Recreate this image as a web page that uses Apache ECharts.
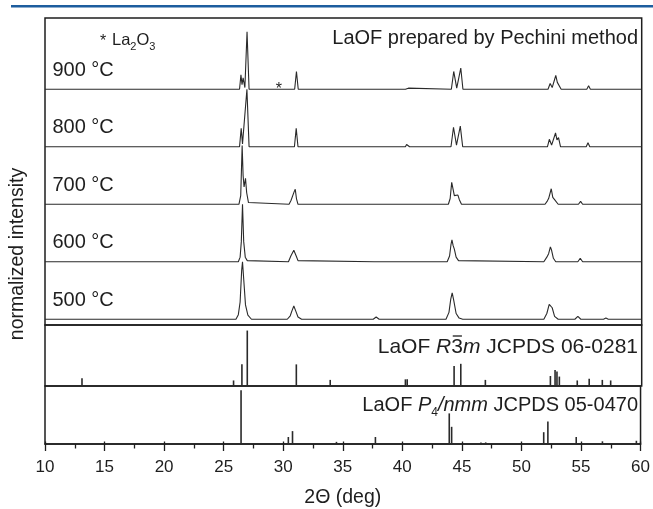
<!DOCTYPE html>
<html>
<head>
<meta charset="utf-8">
<script src="https://cdn.jsdelivr.net/npm/echarts@6/dist/echarts.min.js"></script>
<style>
  html, body { margin: 0; padding: 0; background: #fff; }
  #chart { width: 653px; height: 509px; }
</style>
</head>
<body>
<div id="chart"></div>
<script>
// XRD patterns of LaOF calcined at different temperatures, [2θ (deg), normalized intensity]
const temps = ['900 °C', '800 °C', '700 °C', '600 °C', '500 °C'];
const traceOffsets = [4, 3, 2, 1, 0];

const t900 = [
  [10, 0], [26.3, 0], [26.42, 0.25], [26.51, 0.08], [26.6, 0.2], [26.75, 0.03], [26.93, 1.0], [27.1, 0],
  [29.8, 0], [29.9, 0.02], [30.0, 0],
  [30.92, 0], [31.07, 0.31], [31.22, 0],
  [33.7, 0], [33.82, 0.03], [33.95, 0],
  [40.2, 0], [40.3, 0.03], [40.45, 0.02], [40.55, 0],
  [44.05, 0], [44.25, 0.31], [44.5, 0.02], [44.84, 0.37], [45.02, 0],
  [46.8, 0], [46.9, 0.02], [47.0, 0],
  [52.15, 0], [52.33, 0.1], [52.5, 0.03], [52.8, 0.24], [52.93, 0.12], [53.06, 0.14], [53.25, 0],
  [54.5, 0], [54.6, 0.02], [54.7, 0],
  [55.4, 0], [55.55, 0.06], [55.7, 0],
  [56.6, 0], [56.7, 0.02], [56.8, 0], [57.3, 0], [57.4, 0.02], [57.5, 0],
  [60, 0]
];
const t800 = [
  [10, 0], [26.3, 0], [26.44, 0.32], [26.55, 0.05], [26.7, 0.03], [26.92, 1.0], [27.1, 0],
  [30.9, 0], [31.05, 0.32], [31.2, 0],
  [33.7, 0], [33.8, 0.03], [33.9, 0],
  [40.2, 0], [40.3, 0.04], [40.45, 0.03], [40.55, 0],
  [44.02, 0], [44.23, 0.34], [44.48, 0.03], [44.8, 0.36], [45.0, 0],
  [46.8, 0], [46.9, 0.02], [47.0, 0],
  [52.1, 0], [52.26, 0.13], [52.45, 0.03], [52.78, 0.24], [52.9, 0.12], [53.03, 0.16], [53.2, 0],
  [54.45, 0], [54.55, 0.03], [54.65, 0],
  [55.35, 0], [55.5, 0.07], [55.65, 0],
  [56.6, 0], [56.7, 0.02], [56.8, 0],
  [60, 0]
];
const t700 = [
  [10, 0], [26.25, 0], [26.4, 0.15], [26.52, 1.02], [26.6, 0.5], [26.68, 0.3], [26.8, 0.45], [26.9, 0.2], [27.05, 0.03], [27.2, 0],
  [30.45, 0], [30.62, 0.07], [30.72, 0.05], [30.88, 0.22], [30.97, 0.26], [31.07, 0.1], [31.2, 0],
  [33.7, 0], [33.8, 0.02], [33.9, 0],
  [37.7, 0], [37.8, 0.02], [37.9, 0],
  [43.8, 0], [43.95, 0.1], [44.08, 0.38], [44.15, 0.4], [44.3, 0.15], [44.45, 0.12], [44.6, 0.16], [44.72, 0.08], [44.9, 0],
  [46.8, 0], [46.9, 0.03], [47.0, 0],
  [51.9, 0], [52.1, 0.06], [52.2, 0.1], [52.3, 0.12], [52.42, 0.27], [52.55, 0.12], [52.7, 0.08], [52.85, 0.06], [53.0, 0],
  [54.7, 0], [54.88, 0.05], [55.05, 0],
  [55.5, 0], [55.6, 0.03], [55.7, 0],
  [60, 0]
];
const t600 = [
  [10, 0], [26.2, 0], [26.35, 0.08], [26.45, 0.35], [26.55, 1.0], [26.65, 0.35], [26.78, 0.08], [26.95, 0.02], [27.1, 0],
  [30.4, 0], [30.6, 0.1], [30.7, 0.1], [30.85, 0.2], [30.93, 0.23], [31.05, 0.1], [31.2, 0.02], [31.35, 0],
  [37.6, 0], [37.75, 0.03], [37.9, 0],
  [43.7, 0], [43.9, 0.1], [44.02, 0.3], [44.1, 0.38], [44.2, 0.28], [44.3, 0.22], [44.45, 0.08], [44.65, 0.02], [44.8, 0],
  [51.8, 0], [52.05, 0.08], [52.2, 0.14], [52.35, 0.26], [52.45, 0.2], [52.6, 0.06], [52.8, 0],
  [54.65, 0], [54.85, 0.06], [55.05, 0],
  [56.9, 0], [57.0, 0.02], [57.1, 0],
  [60, 0]
];
const t500 = [
  [10, 0], [26.0, 0], [26.2, 0.08], [26.35, 0.3], [26.48, 0.85], [26.55, 1.0], [26.65, 0.7], [26.8, 0.25], [27.0, 0.07], [27.3, 0],
  [30.3, 0], [30.55, 0.06], [30.7, 0.15], [30.85, 0.23], [31.0, 0.15], [31.2, 0.04], [31.5, 0],
  [37.5, 0], [37.75, 0.04], [38.0, 0],
  [43.6, 0], [43.85, 0.12], [44.0, 0.35], [44.12, 0.46], [44.25, 0.33], [44.45, 0.1], [44.7, 0.02], [45.0, 0],
  [51.8, 0], [52.05, 0.1], [52.25, 0.26], [52.35, 0.28], [52.5, 0.2], [52.7, 0.05], [53.0, 0],
  [54.4, 0], [54.65, 0.05], [54.9, 0],
  [56.8, 0], [57.0, 0.02], [57.2, 0],
  [60, 0]
];
const traces = [t900, t800, t700, t600, t500];

// Reference patterns: peak positions (2θ) and relative intensities
const r3mPos = [13.1, 25.8, 26.5, 26.95, 31.06, 33.9, 40.2, 40.35, 44.28, 44.84, 46.9, 52.35, 52.74, 52.9, 53.1, 54.6, 55.6, 56.7, 57.4];
const r3mInt = [14, 10, 39, 100, 39, 11, 12, 12, 36, 40, 11, 18, 29, 26, 17, 10, 13, 11, 10];
const p4Pos = [26.46, 30.43, 30.78, 34.47, 37.74, 43.94, 44.14, 46.6, 47.0, 51.87, 52.22, 54.6, 56.8, 59.65];
const p4Int = [100, 13, 24, 4, 13, 57, 32, 3, 3, 22, 42, 13, 5, 6];

// La2O3 impurity reflection in the 900 °C pattern
const la2o3Mark = [29.6, 0.0];

const xTicks = { min: 10, max: 60, interval: 5 };

const FONT = '"Liberation Sans", Arial, sans-serif';
const INK = '#1e1e1e';
const LINE = '#2a2a2a';
const FS = 20;
const FS_R3M = 21;

// width of a text run, used to place the overbar of the space-group symbol
const measure = (() => {
  const ctx = document.createElement('canvas').getContext('2d');
  return (text, style, size) => { ctx.font = (style || '') + ' ' + size + 'px ' + FONT; return ctx.measureText(text).width; };
})();

const chart = echarts.init(document.getElementById('chart'), null, { renderer: 'canvas' });

const gridBase = { left: 45, right: 11.3, show: true, borderColor: INK, borderWidth: 1.5, backgroundColor: 'transparent' };
const hiddenX = (gi) => ({
  type: 'value', gridIndex: gi, min: xTicks.min, max: xTicks.max, interval: xTicks.interval,
  axisLine: { show: false }, axisTick: { show: false }, axisLabel: { show: false }, splitLine: { show: false }
});
const hiddenY = (gi, min, max) => ({
  type: 'value', gridIndex: gi, min, max,
  axisLine: { show: false }, axisTick: { show: false }, axisLabel: { show: false }, splitLine: { show: false }
});

const series = [];
traces.forEach((tr, i) => {
  series.push({
    type: 'line', xAxisIndex: 0, yAxisIndex: 0, showSymbol: false, symbol: 'none',
    lineStyle: { color: LINE, width: 1.1 }, silent: true, animation: false,
    data: tr.map(p => [p[0], p[1] + traceOffsets[i]])
  });
});
// temperature labels, anchored in data space above each baseline
series.push({
  type: 'scatter', xAxisIndex: 0, yAxisIndex: 0, symbolSize: 0, silent: true, animation: false,
  itemStyle: { opacity: 1 },
  data: temps.map((t, i) => ({ value: [10.62, traceOffsets[i] + 0.33], name: t })),
  label: { show: true, position: [0, 0], align: 'left', verticalAlign: 'middle', formatter: p => p.name,
    fontFamily: FONT, fontSize: FS, color: INK }
});
series.push({
  type: 'scatter', xAxisIndex: 0, yAxisIndex: 0, symbolSize: 0, silent: true, animation: false,
  itemStyle: { opacity: 1 },
  data: [[la2o3Mark[0], la2o3Mark[1] + traceOffsets[0]]],
  label: { show: true, position: [0, 0], align: 'center', verticalAlign: 'middle', formatter: '*',
    fontFamily: FONT, fontSize: 16, color: INK }
});
series.push({
  type: 'bar', xAxisIndex: 1, yAxisIndex: 1, barWidth: 1.6, silent: true, animation: false,
  itemStyle: { color: LINE },
  data: r3mPos.map((p, i) => [p, r3mInt[i]])
});
series.push({
  type: 'bar', xAxisIndex: 2, yAxisIndex: 2, barWidth: 1.6, silent: true, animation: false,
  itemStyle: { color: LINE },
  data: p4Pos.map((p, i) => [p, p4Int[i]])
});

// R-3m label pieces (right aligned at the panel's right edge)
const labelRight = 638;
const tailW = measure(' JCPDS 06-0281', '', FS_R3M);
const mW = measure('m', 'italic', FS_R3M);
const threeW = measure('3', '', FS_R3M);
const threeX = labelRight - tailW - mW - threeW;

const option = {
  animation: false,
  backgroundColor: '#fff',
  grid: [
    Object.assign({ top: 18, height: 307 }, gridBase),
    Object.assign({ top: 325, height: 61 }, gridBase),
    Object.assign({ top: 386, height: 61.5 }, gridBase)
  ],
  xAxis: [
    hiddenX(0),
    hiddenX(1),
    {
      type: 'value', gridIndex: 2, min: xTicks.min, max: xTicks.max, interval: xTicks.interval,
      axisLine: { show: true, lineStyle: { color: INK, width: 1.5 } },
      axisTick: { show: true, inside: false, length: 7, lineStyle: { color: INK, width: 1.3 } },
      minorTick: { show: true, splitNumber: 2, length: 4.5, lineStyle: { color: INK, width: 1.3 } },
      axisLabel: { show: true, fontFamily: FONT, fontSize: 17, color: INK, margin: 15 },
      splitLine: { show: false },
      name: '2\u0398 (deg)', nameLocation: 'middle', nameGap: 44,
      nameTextStyle: { fontFamily: FONT, fontSize: 19.5, color: INK }
    },
    {
      type: 'value', gridIndex: 2, position: 'bottom', min: xTicks.min, max: xTicks.max, interval: xTicks.interval,
      axisLine: { show: false },
      axisTick: { show: true, inside: true, length: 2.5, lineStyle: { color: INK, width: 1.3 } },
      axisLabel: { show: false }, splitLine: { show: false }
    }
  ],
  yAxis: [
    hiddenY(0, -0.1, 5.24),
    hiddenY(1, 0, 110),
    hiddenY(2, 0, 108)
  ],
  series,
  graphic: [
    { type: 'rect', shape: { x: 11, y: 5, width: 642, height: 2.6 }, style: { fill: '#1d5d9e' }, silent: true },
    { type: 'text', x: labelRight, y: 38, silent: true,
      style: { text: 'LaOF prepared by Pechini method', font: FS + 'px ' + FONT, fill: INK, textAlign: 'right', textVerticalAlign: 'middle' } },
    { type: 'text', x: 100, y: 42, silent: true,
      style: { text: '*', font: '16px ' + FONT, fill: INK, textAlign: 'left', textVerticalAlign: 'middle' } },
    { type: 'text', x: 112, y: 40, silent: true,
      style: { text: 'La{sub|2}O{sub|3}', fill: INK, textAlign: 'left', textVerticalAlign: 'middle',
        font: '16.5px ' + FONT,
        rich: {
          sub: { fontFamily: FONT, fontSize: 11, lineHeight: 25, verticalAlign: 'bottom' }
        } } },
    { type: 'text', x: labelRight, y: 347, silent: true,
      style: { text: 'LaOF {it|R}3{it|m} JCPDS 06-0281', fill: INK, textAlign: 'right', textVerticalAlign: 'middle',
        font: FS_R3M + 'px ' + FONT,
        rich: { it: { fontFamily: FONT, fontSize: FS_R3M, fontStyle: 'italic' } } } },
    { type: 'line', silent: true,
      shape: { x1: threeX + 1.5, y1: 336, x2: threeX + threeW - 1, y2: 336 },
      style: { stroke: INK, lineWidth: 1.3 } },
    { type: 'text', x: labelRight, y: 405, silent: true,
      style: { text: 'LaOF {it|P}{sub|4}{it|/nmm} JCPDS 05-0470', fill: INK, textAlign: 'right', textVerticalAlign: 'middle',
        font: FS + 'px ' + FONT,
        rich: {
          it: { fontFamily: FONT, fontSize: FS, fontStyle: 'italic', lineHeight: 28 },
          sub: { fontFamily: FONT, fontSize: 12, verticalAlign: 'bottom', lineHeight: 28 }
        } } },
    { type: 'text', x: 18, y: 254, rotation: Math.PI / 2, silent: true,
      style: { text: 'normalized intensity', font: '19.5px ' + FONT, fill: INK, textAlign: 'center', textVerticalAlign: 'middle' } }
  ]
};

chart.setOption(option);
</script>
</body>
</html>
